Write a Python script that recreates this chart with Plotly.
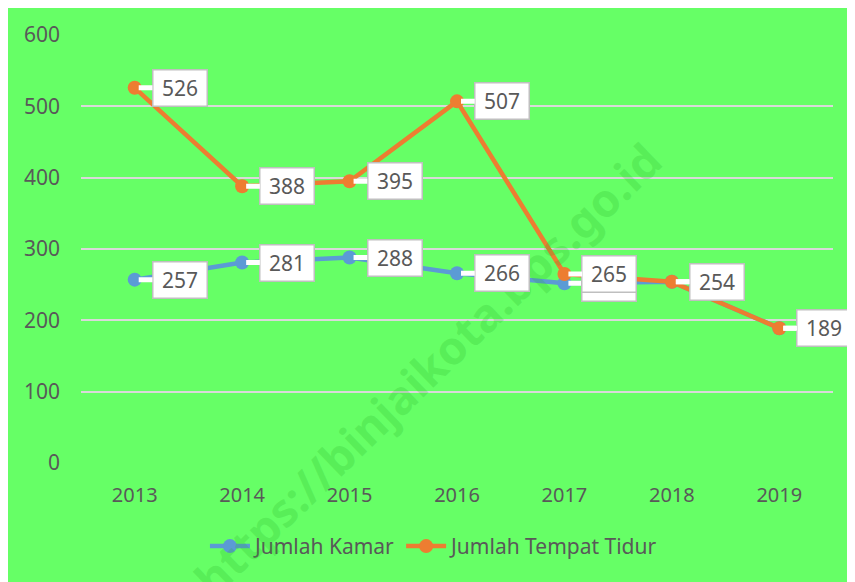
import plotly.graph_objects as go

years = ["2013", "2014", "2015", "2016", "2017", "2018", "2019"]
jumlah_kamar = [257, 281, 288, 266, 252, 254, 189]
jumlah_tempat_tidur = [526, 388, 395, 507, 265, 254, 189]
y_ticks = [0, 100, 200, 300, 400, 500, 600]

BLUE = "#5B9BD5"
ORANGE = "#ED7D31"
GREEN = "#66FF66"
TXT = "#595959"
FONT = "Noto Sans"

fig = go.Figure()
fig.add_trace(go.Scatter(
    x=years, y=jumlah_kamar, name="Jumlah Kamar", mode="lines+markers",
    line=dict(color=BLUE, width=4.5), marker=dict(color=BLUE, size=14),
))
fig.add_trace(go.Scatter(
    x=years, y=jumlah_tempat_tidur, name="Jumlah Tempat Tidur", mode="lines+markers",
    line=dict(color=ORANGE, width=4.5), marker=dict(color=ORANGE, size=14),
))

annotations = []
# watermark
annotations.append(dict(
    text="https://binjaikota.bps.go.id", xref="paper", yref="paper",
    x=0.46, y=0.22, xanchor="center", yanchor="middle",
    showarrow=False, textangle=-44,
    font=dict(family=FONT, size=46, color="rgba(40,180,40,0.22)", weight="bold"),
))

def label(i, y):
    return dict(
        x=i, y=y, xref="x", yref="y", text=str(y),
        showarrow=True, ax=45, ay=0, arrowhead=0, arrowwidth=5,
        arrowcolor="#FFFFFF", standoff=4,
        bgcolor="#FFFFFF", bordercolor="#BFBFBF", borderwidth=1.5, borderpad=2,
        width=49, height=31, font=dict(family=FONT, size=21, color=TXT),
    )

for i, y in enumerate(jumlah_kamar):
    annotations.append(label(i, y))
for i, y in enumerate(jumlah_tempat_tidur):
    annotations.append(label(i, y))

fig.update_layout(
    width=847, height=574,
    paper_bgcolor="#FFFFFF", plot_bgcolor=GREEN,
    margin=dict(l=73, r=22, t=25, b=119),
    font=dict(family=FONT, color=TXT),
    showlegend=True,
    legend=dict(orientation="h", x=0.47, xanchor="center", y=-0.195, yanchor="middle",
                font=dict(family=FONT, size=21, color=TXT), bgcolor="rgba(0,0,0,0)",
                itemwidth=40),
    xaxis=dict(type="category", range=[-0.5, 6.5], showgrid=False, zeroline=False,
               showline=False, ticks="", tickfont=dict(family=FONT, size=20, color=TXT),
               ticklabelstandoff=18),
    yaxis=dict(range=[0, 600], tickvals=y_ticks, showgrid=True, gridcolor="#D9D9D9",
               gridwidth=1.5, zeroline=False, showline=False, ticks="",
               tickfont=dict(family=FONT, size=21, color=TXT), ticklabelstandoff=20),
    annotations=annotations,
    shapes=[dict(type="rect", xref="paper", yref="paper", layer="below",
                 x0=-0.2, x1=1.05, y0=-0.32, y1=1.2,
                 fillcolor=GREEN, line=dict(width=0))],
)

fig.write_html("out.html")
